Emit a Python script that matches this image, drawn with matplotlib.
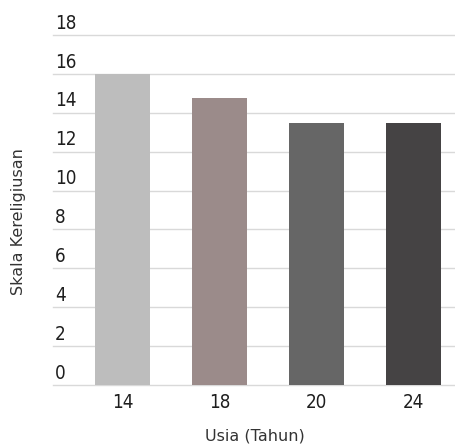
import numpy as np
import matplotlib.pyplot as plt

ages = ["14", "18", "20", "24"]
scores = [16, 14.75, 13.5, 13.5]
colors = ["#bdbdbd", "#9b8b8a", "#666666", "#454344"]
y_ticks = list(range(0, 19, 2))

num_font = dict(family="DejaVu Sans", fontstretch="condensed",
                fontsize=13.5, color="#1e1e1e")

fig = plt.figure(figsize=(4.56, 4.44), dpi=100)
ax = fig.add_axes([0.116, 0.133, 0.884, 0.788])

x = np.arange(len(ages))
ax.bar(x, scores, width=0.57, color=colors, zorder=2)

ax.set_xlim(-0.72, 3.44)
ax.set_ylim(0, 18)

# garis grid horizontal, label angka di atas garisnya
for v in y_ticks:
    ax.axhline(v, color="#d9d9d9", linewidth=1, zorder=1, clip_on=False)
    ax.text(0.005, v + 0.12, str(v), transform=ax.get_yaxis_transform(),
            ha="left", va="bottom", clip_on=False, **num_font)

ax.set_yticks([])
ax.set_xticks(x)
ax.set_xticklabels(ages, **num_font)
ax.tick_params(axis="x", length=0, pad=6)

for s in ax.spines.values():
    s.set_visible(False)

ax.set_xlabel("Usia (Tahun)", fontsize=11.5, color="#333333", labelpad=12)
fig.text(0.04, 0.5, "Skala Kereligiusan", rotation=90, ha="center",
         va="center", fontsize=11.5, color="#333333")

fig.savefig("out.png", dpi=100)
